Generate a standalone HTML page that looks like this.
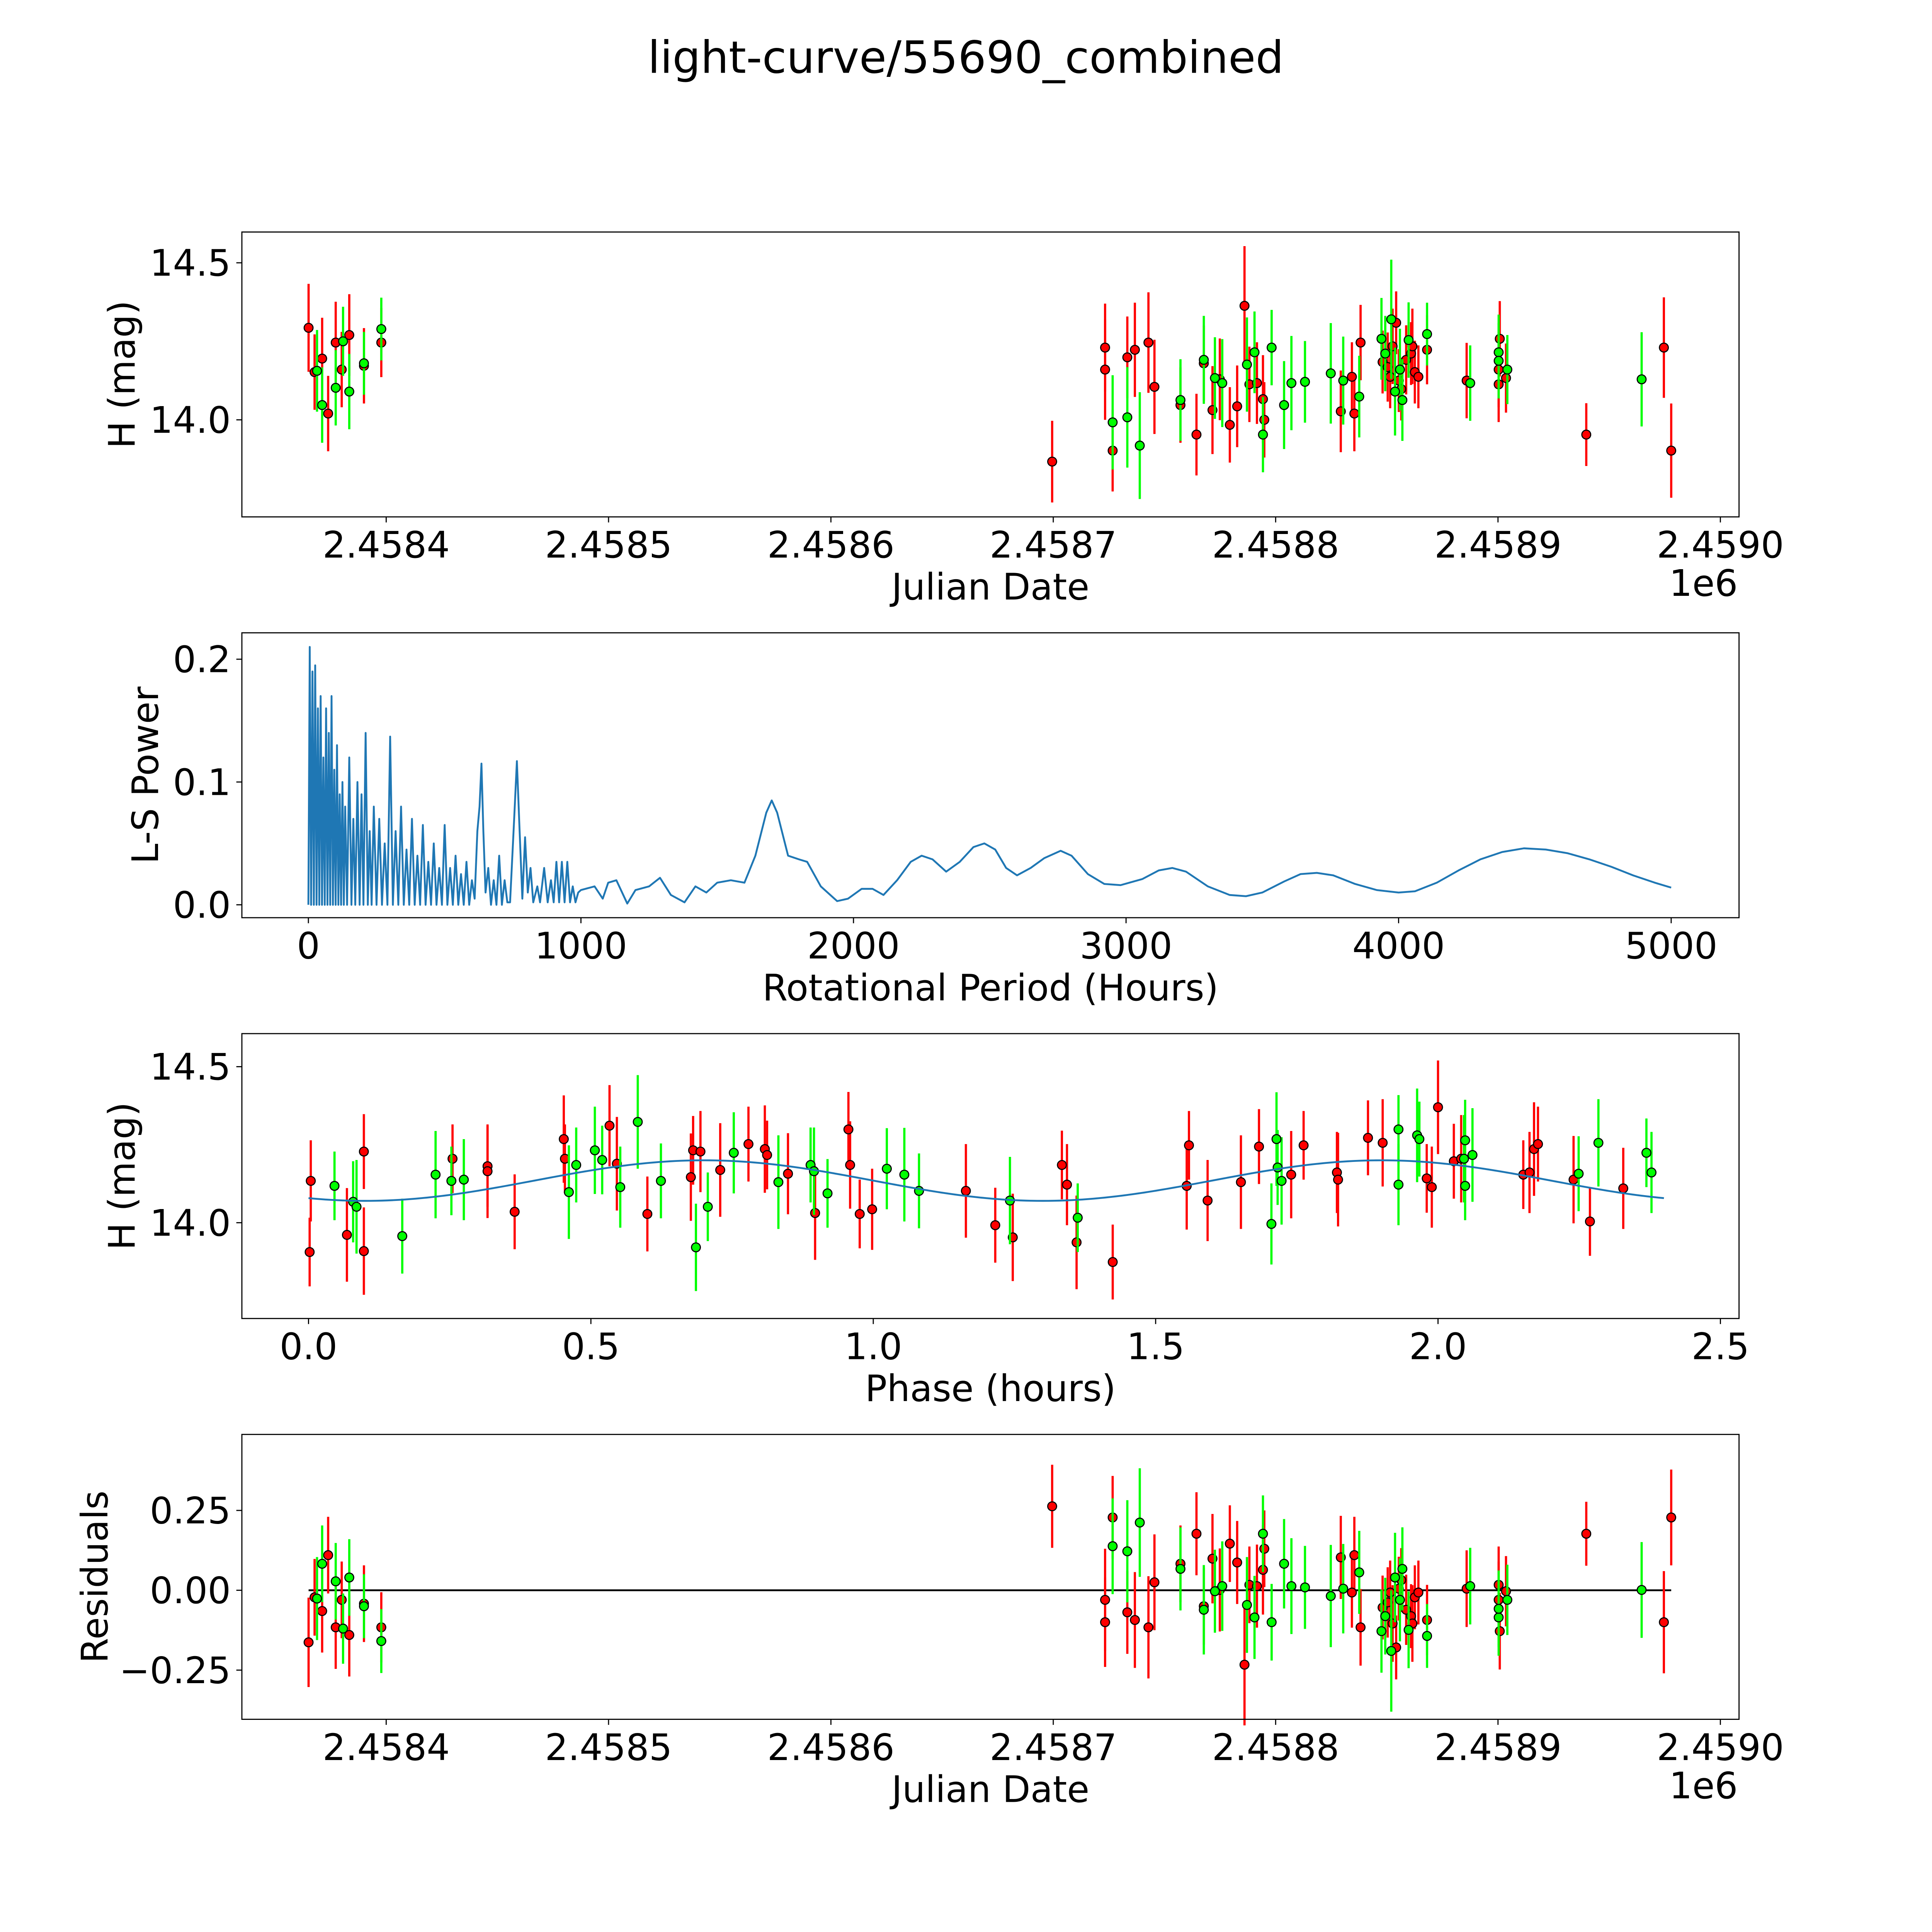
<!DOCTYPE html>
<html><head><meta charset="utf-8"><style>
html,body{margin:0;padding:0;background:#fff;overflow:hidden;width:100%;height:100%;}
svg{display:block;position:fixed;left:0;top:0;width:100vw;height:100vh;}
text{font-family:"DejaVu Sans","Liberation Sans",sans-serif;fill:#000;}
</style></head><body>
<svg id="fig" xmlns="http://www.w3.org/2000/svg" viewBox="0.87 0.87 1566.6 1566.6" preserveAspectRatio="xMidYMid meet">
<rect x="0" y="0" width="1570" height="1570" fill="#fff"/>
<text x="784" y="60" font-size="36" text-anchor="middle">light-curve/55690_combined</text>
</svg>
<script>
// ---- Data ----
const JD_BASE = 2458400;
const redJdOffset = [-34.9,-32.2,-28.8,-26.1,-22.7,-20.0,-16.6,-10.0,-2.2,299.5,323.3,323.3,326.7,333.3,336.7,342.8,345.5,357.2,364.4,367.7,371.6,374.9,379.4,382.7,386.0,388.2,391.6,394.3,394.9,429.3,434.3,435.4,438.2,448.1,450.4,451.5,452.6,454.2,455.4,456.5,458.7,460.9,461.5,462.6,464.2,468.1,485.9,500.3,500.3,500.8,503.6,539.7,574.6,577.9];
const redMag = [14.293,14.152,14.195,14.020,14.246,14.160,14.270,14.172,14.246,13.867,14.230,14.160,13.902,14.199,14.223,14.246,14.105,14.047,13.953,14.180,14.031,14.129,13.984,14.043,14.363,14.113,14.117,14.066,14.000,14.027,14.137,14.020,14.246,14.184,14.168,14.137,14.234,14.309,14.125,14.098,14.191,14.211,14.234,14.152,14.137,14.223,14.125,14.113,14.160,14.258,14.133,13.953,14.230,13.902];
const redErr = [0.14,0.12,0.13,0.12,0.13,0.12,0.13,0.12,0.11,0.13,0.14,0.16,0.13,0.13,0.15,0.16,0.15,0.12,0.13,0.12,0.14,0.13,0.12,0.13,0.19,0.12,0.13,0.14,0.12,0.13,0.11,0.12,0.12,0.1,0.11,0.1,0.12,0.1,0.1,0.1,0.11,0.1,0.12,0.1,0.1,0.11,0.12,0.12,0.12,0.12,0.11,0.1,0.16,0.15];
const greenJdOffset = [-31.1,-28.8,-22.7,-19.4,-16.6,-10.0,-2.2,326.7,333.3,338.9,357.2,367.7,372.7,376.0,387.1,390.5,394.3,398.2,403.8,407.1,413.2,424.8,430.4,437.6,447.6,449.3,452.0,453.7,455.9,457.0,459.8,468.1,487.5,500.3,500.3,504.2,564.6];
const greenMag = [14.156,14.047,14.102,14.250,14.090,14.180,14.289,13.992,14.008,13.918,14.063,14.191,14.133,14.117,14.176,14.215,13.953,14.230,14.047,14.117,14.121,14.148,14.125,14.074,14.258,14.211,14.320,14.090,14.160,14.063,14.254,14.273,14.117,14.215,14.188,14.160,14.129];
const greenErr = [0.13,0.12,0.12,0.11,0.12,0.1,0.1,0.15,0.16,0.17,0.13,0.14,0.13,0.14,0.15,0.13,0.12,0.12,0.14,0.15,0.13,0.16,0.14,0.13,0.13,0.12,0.19,0.14,0.13,0.13,0.12,0.1,0.12,0.12,0.12,0.11,0.15];
const RESID_MODEL_LEVEL = 14.13;

// periodogram: spiky short-period region (aligned 10 per line)
const spikePeriods = [
0,5,10,15,20,25,30,35,40,45,
50,55,60,65,70,75,80,85,90,95,
100,105,110,115,120,125,130,135,142,150,
158,165,172,180,188,195,202,210,218,225,
232,240,250,260,270,280,290,300,310,320,
330,340,350,360,370,380,390,400,410,420,
430,440,450,460,470,480,490,500,510,520,
530,540,550,560,570,580,590,600,610,620,
628,635,642,650,660,670,680,690,700,710,
720,730,740,755,765,775,785,795,805,815,
825,840,850,865,878,890,900,910,920,930,
940,950,960,970,980,990];
const spikePowers = [
0,0.21,0,0.19,0,0.195,0,0.16,0,0.17,
0,0.12,0,0.16,0,0.14,0,0.17,0,0.11,
0,0.13,0,0.09,0,0.1,0,0.08,0,0.12,
0,0.07,0,0.1,0,0.09,0,0.14,0,0.06,
0,0.08,0,0.07,0,0.05,0,0.137,0,0.06,
0,0.08,0,0.045,0,0.07,0,0.04,0,0.065,
0,0.035,0,0.05,0,0.03,0,0.065,0,0.03,
0,0.04,0,0.025,0,0.035,0,0.02,0.005,0.06,
0.08,0.115,0.06,0.01,0.03,0,0.02,0,0.04,0,
0.02,0.002,0.002,0.07,0.117,0.06,0.005,0.055,0.01,0.03,
0.002,0.015,0.002,0.03,0.002,0.02,0.002,0.035,0.002,0.035,
0.002,0.035,0.002,0.015,0.002,0.01];
// periodogram: smooth long-period region (aligned 10 per line)
const smoothPeriods = [
1000,1050,1080,1100,1130,1170,1200,1250,1290,1330,
1380,1420,1460,1500,1550,1600,1640,1680,1700,1720,
1760,1800,1830,1880,1940,1980,2030,2070,2110,2160,
2210,2250,2290,2340,2390,2440,2480,2520,2560,2600,
2650,2700,2760,2800,2860,2920,2980,3060,3120,3170,
3220,3300,3380,3440,3500,3580,3640,3700,3760,3840,
3920,4000,4060,4140,4220,4300,4380,4460,4540,4620,
4700,4780,4860,4940,5000];
const smoothPowers = [
0.012,0.015,0.005,0.018,0.02,0.001,0.012,0.015,0.022,0.008,
0.002,0.015,0.01,0.018,0.02,0.018,0.04,0.075,0.085,0.075,
0.04,0.037,0.035,0.015,0.003,0.005,0.013,0.013,0.008,0.02,
0.035,0.04,0.037,0.027,0.035,0.047,0.05,0.045,0.03,0.024,
0.03,0.038,0.044,0.04,0.025,0.017,0.016,0.021,0.028,0.03,
0.027,0.015,0.008,0.007,0.01,0.019,0.025,0.026,0.024,0.017,
0.012,0.01,0.011,0.018,0.028,0.037,0.043,0.046,0.045,0.042,
0.037,0.031,0.024,0.018,0.014];

const redPhase = [0.002,0.004,0.068,0.098,0.098,0.255,0.317,0.317,0.365,0.452,0.454,0.533,0.546,0.6,0.677,0.681,0.694,0.729,0.779,0.808,0.812,0.849,0.897,0.956,0.959,0.976,0.998,1.164,1.216,1.247,1.334,1.343,1.36,1.424,1.555,1.559,1.592,1.651,1.683,1.74,1.762,1.821,1.823,1.876,1.902,1.98,1.989,2.0,2.028,2.041,2.151,2.162,2.17,2.177,2.24,2.269,2.328];
const redPhaseMag = [13.906,14.134,13.961,14.228,13.909,14.205,14.181,14.165,14.035,14.268,14.205,14.311,14.189,14.028,14.146,14.232,14.228,14.169,14.252,14.236,14.217,14.157,14.031,14.299,14.185,14.028,14.043,14.102,13.992,13.953,14.185,14.122,13.937,13.874,14.118,14.248,14.071,14.13,14.244,14.154,14.248,14.161,14.138,14.272,14.256,14.142,14.114,14.37,14.197,14.205,14.154,14.161,14.236,14.252,14.138,14.004,14.11];
const greenPhase = [0.046,0.079,0.085,0.166,0.225,0.253,0.275,0.461,0.474,0.507,0.52,0.552,0.583,0.624,0.686,0.707,0.753,0.832,0.889,0.895,0.919,1.024,1.055,1.081,1.242,1.362,1.705,1.714,1.716,1.723,1.93,1.93,1.963,1.967,2.046,2.048,2.048,2.061,2.249,2.284,2.369,2.378];
const greenPhaseMag = [14.118,14.067,14.051,13.957,14.154,14.134,14.138,14.098,14.185,14.232,14.201,14.114,14.323,14.134,13.921,14.051,14.224,14.13,14.185,14.165,14.094,14.173,14.154,14.102,14.071,14.016,13.996,14.268,14.177,14.134,14.299,14.122,14.28,14.268,14.205,14.118,14.264,14.217,14.157,14.256,14.224,14.161];
const fitMean = 14.135, fitAmp = 0.065, fitPeriod = 1.2, fitPeakPhase = 0.7, fitMaxPhase = 2.4;

const jdTicks = [2458400,2458500,2458600,2458700,2458800,2458900,2459000];
const jdTickLabels = ["2.4584","2.4585","2.4586","2.4587","2.4588","2.4589","2.4590"];
const magTicks = [14.0,14.5];
const magTickLabels = ["14.0","14.5"];
const periodTicks = [0,1000,2000,3000,4000,5000];
const powerTicks = [0.0,0.1,0.2];
const powerTickLabels = ["0.0","0.1","0.2"];
const phaseTicks = [0,0.5,1.0,1.5,2.0,2.5];
const phaseTickLabels = ["0.0","0.5","1.0","1.5","2.0","2.5"];
const residTicks = [0.25,0,-0.25];
const residTickLabels = ["0.25","0.00","\u22120.25"];

// ---- Drawing ----
const NS = "http://www.w3.org/2000/svg";
const svg = document.getElementById('fig');
function mk(tag, attrs, parent){
  const e = document.createElementNS(NS, tag);
  for (const k in attrs) e.setAttribute(k, attrs[k]);
  (parent||svg).appendChild(e);
  return e;
}
const L = 197, R = 1411;
const FS = 29.5;
function scale(d0,d1,p0,p1){ return v => p0 + (v-d0)/(d1-d0)*(p1-p0); }

function axes(name, top, bottom, xs, ys, xt, xtl, yt, ytl, xlabel, ylabel, ylabelX){
  const g = mk('g', {});
  
  
  xt.forEach((v,i)=>{
    const x = xs(v);
    const t = mk('line',{x1:x,x2:x,y1:bottom,y2:bottom+4.5,stroke:'#000','stroke-width':0.9}, g);
    
    
    const tx = mk('text',{x:x,y:bottom+33,'font-size':FS,'text-anchor':'middle'}, g);
    
    
    tx.textContent = xtl[i];
  });
  yt.forEach((v,i)=>{
    const y = ys(v);
    const t = mk('line',{x1:L-4.5,x2:L,y1:y,y2:y,stroke:'#000','stroke-width':0.9}, g);
    
    
    const tx = mk('text',{x:L-9,y:y+10.5,'font-size':FS,'text-anchor':'end'}, g);
    
    
    tx.textContent = ytl[i];
  });
  const xl = mk('text',{x:(L+R)/2,y:bottom+67,'font-size':FS,'text-anchor':'middle'}, g);
  
  
  xl.textContent = xlabel;
  const cy = (top+bottom)/2;
  const yl = mk('text',{x:ylabelX,y:cy,'font-size':FS,'text-anchor':'middle',transform:`rotate(-90 ${ylabelX} ${cy})`}, g);
  
  
  yl.textContent = ylabel;
  return g;
}
function frame(g, top, bottom){
  const r = mk('rect',{x:L,y:top,width:R-L,height:bottom-top,fill:'none',stroke:'#000','stroke-width':0.9}, g);
  
  
}
function points(g, xsArr, ysArr, errArr, xs, ys, color, name){
  const bars = mk('g',{}, g);
  
  
  xsArr.forEach((v,i)=>{
    const x = xs(v), e = errArr[i];
    const b = mk('line',{x1:x,x2:x,y1:ys(ysArr[i]+e),y2:ys(ysArr[i]-e),stroke:color,'stroke-width':1.8}, bars);
    
    
  });
  const pts = mk('g',{}, g);
  
  
  xsArr.forEach((v,i)=>{
    const c = mk('circle',{cx:xs(v),cy:ys(ysArr[i]),r:3.6,fill:color,stroke:'#000','stroke-width':0.9}, pts);
    
    
  });
}
function errFor(mags){ return mags.map((m,i)=>0.11 + 0.04*((i*7)%5)/4); }

// Panel 1
{
  const top=189, bot=420;
  const xs = scale(-64.9, 608.4, L, R);
  const ys = scale(13.691, 14.598, bot, top);
  const g = axes('lightcurve-panel', top, bot, v=>xs(v-JD_BASE), ys, jdTicks, jdTickLabels, magTicks, magTickLabels, 'Julian Date', 'H (mag)', 110);
  points(g, redJdOffset, redMag, redErr, xs, ys, '#ff0000', 'red-filter');
  points(g, greenJdOffset, greenMag, greenErr, xs, ys, '#00ff00', 'green-filter');
  frame(g, top, bot);
  const o = mk('text',{x:1410,y:484,'font-size':FS,'text-anchor':'end'}, g);
  
  
  o.textContent = '1e6';
}
// Panel 2
{
  const top=514, bot=745;
  const xs = scale(-244, 5249, L, R);
  const ys = scale(-0.0105, 0.2215, bot, top);
  const g = axes('periodogram-panel', top, bot, xs, ys, periodTicks, periodTicks.map(String), powerTicks, powerTickLabels, 'Rotational Period (Hours)', 'L-S Power', 129);
  const P = [], V = [];
  const n1 = Math.min(spikePeriods.length, spikePowers.length);
  for (let i=0;i<n1;i++){ P.push(spikePeriods[i]); V.push(spikePowers[i]); }
  const n2 = Math.min(smoothPeriods.length, smoothPowers.length);
  for (let i=0;i<n2;i++){ P.push(smoothPeriods[i]); V.push(smoothPowers[i]); }
  const d = P.map((p,i)=>(i?'L':'M')+xs(p).toFixed(2)+' '+ys(V[i]).toFixed(2)).join(' ');
  const p = mk('path',{d:d,fill:'none',stroke:'#1f77b4','stroke-width':1.5,'stroke-linejoin':'round'}, g);
  
  
  frame(g, top, bot);
}
// Panel 3
{
  const top=839, bot=1070;
  const xs = scale(-0.118, 2.533, L, R);
  const ys = scale(13.693, 14.606, bot, top);
  const g = axes('phase-folded-panel', top, bot, xs, ys, phaseTicks, phaseTickLabels, magTicks, magTickLabels, 'Phase (hours)', 'H (mag)', 110);
  points(g, redPhase, redPhaseMag, errFor(redPhaseMag), xs, ys, '#ff0000', 'red-phase');
  points(g, greenPhase, greenPhaseMag, errFor(greenPhaseMag), xs, ys, '#00ff00', 'green-phase');
  let d='';
  for (let i=0;i<=240;i++){
    const ph = fitMaxPhase*i/240;
    const m = fitMean + fitAmp*Math.cos(2*Math.PI*(ph-fitPeakPhase)/fitPeriod);
    d += (i?'L':'M')+xs(ph).toFixed(2)+' '+ys(m).toFixed(2)+' ';
  }
  const p = mk('path',{d:d,fill:'none',stroke:'#1f77b4','stroke-width':1.5}, g);
  
  
  frame(g, top, bot);
}
// Panel 4
{
  const top=1164, bot=1395;
  const xs = scale(-64.9, 608.4, L, R);
  const ys = scale(-0.404, 0.488, bot, top);
  const g = axes('residuals-panel', top, bot, v=>xs(v-JD_BASE), ys, jdTicks, jdTickLabels, residTicks, residTickLabels, 'Julian Date', 'Residuals', 88);
  const allD = redJdOffset.concat(greenJdOffset);
  const zl = mk('line',{x1:xs(Math.min(...allD)),x2:xs(Math.max(...allD)),y1:ys(0),y2:ys(0),stroke:'#000','stroke-width':1.5}, g);
  
  
  points(g, redJdOffset, redMag.map(m=>RESID_MODEL_LEVEL-m), redErr, xs, ys, '#ff0000', 'red-residual');
  points(g, greenJdOffset, greenMag.map(m=>RESID_MODEL_LEVEL-m), greenErr, xs, ys, '#00ff00', 'green-residual');
  frame(g, top, bot);
  const o = mk('text',{x:1410,y:1459,'font-size':FS,'text-anchor':'end'}, g);
  
  
  o.textContent = '1e6';
}
</script>
</body></html>
